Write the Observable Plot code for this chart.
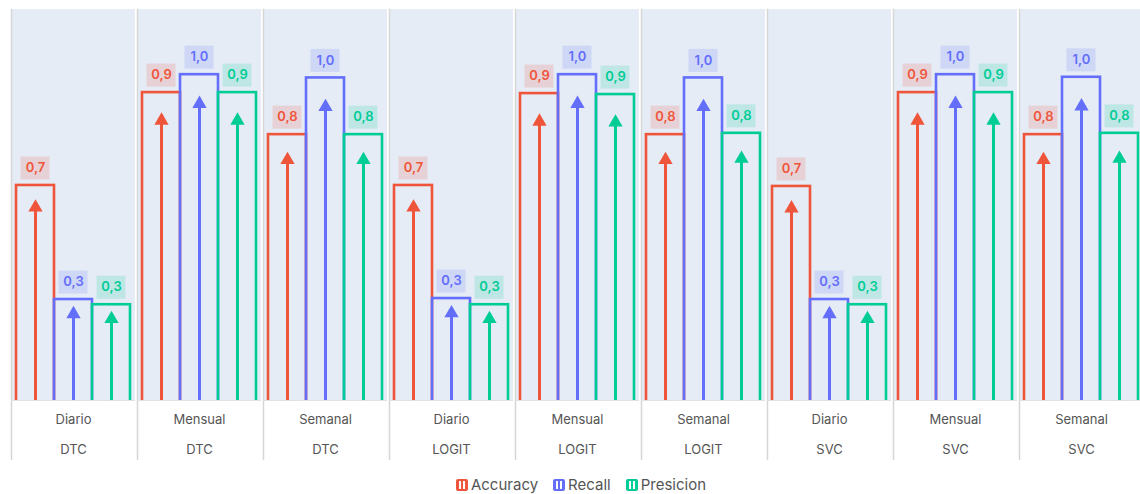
<!DOCTYPE html>
<html>
<head>
<meta charset="utf-8">
<script src="https://cdn.jsdelivr.net/npm/d3@7"></script>
<script src="https://cdn.jsdelivr.net/npm/@observablehq/plot@0.6"></script>
<style>
  body { margin: 0; overflow: hidden; background: #fff; font-family: Inter, "Noto Sans", sans-serif; }
  #chart svg { max-width: none !important; display: block; }
  #legend { width: 1140px; height: 34px; box-sizing: border-box; padding-top: 15px; padding-left: 22px; display: flex; justify-content: center; gap: 15px; font-size: 15px; line-height: 20px; color: #555; }
  .item { display: flex; align-items: center; gap: 3px; }
  .icon { width: 8px; height: 8px; border: 2px solid; border-radius: 2px; }
</style>
</head>
<body>
<div id="chart"></div>
<div id="legend"></div>
<script>
// ---- data ----
const models = ["DTC", "DTC", "DTC", "LOGIT", "LOGIT", "LOGIT", "SVC", "SVC", "SVC"];
const periods = ["Diario", "Mensual", "Semanal", "Diario", "Mensual", "Semanal", "Diario", "Mensual", "Semanal"];
const metrics = ["Accuracy", "Recall", "Presicion"];
const colors = ["#EF553B", "#636EFA", "#00CC96"];
const accuracy  = [0.660, 0.945, 0.816, 0.660, 0.942, 0.816, 0.657, 0.945, 0.816];
const recall    = [0.310, 1.000, 0.990, 0.313, 1.000, 0.990, 0.310, 1.000, 0.992];
const presicion = [0.294, 0.945, 0.816, 0.294, 0.939, 0.820, 0.294, 0.945, 0.820];

const keys = models.map((m, i) => periods[i] + "|" + m);
const series = [accuracy, recall, presicion];
const rows = [];
keys.forEach((k, i) => metrics.forEach((m, j) => rows.push({
  key: k, model: models[i], period: periods[i], metric: m, value: series[j][i],
  label: series[j][i].toFixed(1).replace(".", ",")
})));

const yMin = -0.184, yMax = 1.2;
const arrowFrac = 0.935;

const chart = Plot.plot({
  width: 1146,
  height: 460,
  marginLeft: 8,
  marginRight: 0,
  marginTop: 9,
  marginBottom: 0,
  style: { fontFamily: "Inter, 'Noto Sans', sans-serif", background: "transparent" },
  fx: { domain: keys, paddingInner: 0.016, paddingOuter: 0, axis: null, label: null },
  x: { domain: metrics, padding: 0, insetLeft: 5, insetRight: 5, axis: null },
  y: { domain: [yMin, yMax], axis: null },
  color: { domain: metrics, range: colors },
  marks: [
    Plot.rect([0], { y1: 0, y2: yMax, fill: "#E5ECF6" }),
    Plot.rectY(rows, { fx: "key", x: "metric", y1: 0, y2: "value", stroke: "metric", fill: "none", strokeWidth: 2.6, insetBottom: -4 }),
    Plot.rect([0], { y1: yMin, y2: 0, fill: "white" }),
    Plot.frame({ anchor: "left", stroke: "#d6d6d6", strokeWidth: 1.5 }),
    Plot.ruleY([0], { stroke: "#e2e2e2", strokeWidth: 1 }),
    Plot.ruleX(rows, { fx: "key", x: "metric", y1: d => d.value * arrowFrac, y2: 0, stroke: "metric", strokeWidth: 3, insetTop: 8 }),
    Plot.dot(rows, { fx: "key", x: "metric", y: d => d.value * arrowFrac, symbol: "triangle", r: 5.3, fill: "metric", stroke: "none", dy: 8 }),
    Plot.tickY(rows, { fx: "key", x: "metric", y: "value", dy: -17.5, stroke: "metric", strokeWidth: 23, strokeOpacity: 0.17, insetLeft: 4.5, insetRight: 4.5 }),
    Plot.text(rows, { fx: "key", x: "metric", y: "value", dy: -17.5, text: "label", fill: "metric", fontSize: 13, fontWeight: 600 }),
    Plot.text(keys, { fx: d => d, text: d => d.replace("|", "\n"), frameAnchor: "bottom", lineAnchor: "middle", lineHeight: 2.3, dy: -31, fontSize: 13, fill: "#555" })
  ]
});
document.getElementById("chart").appendChild(chart);

const legend = document.getElementById("legend");
metrics.forEach((m, i) => {
  const item = document.createElement("span");
  item.className = "item";
  const icon = document.createElement("span");
  icon.className = "icon";
  icon.style.borderColor = colors[i];
  icon.style.background = `linear-gradient(to right, ${colors[i]} 0 1px, #fff 1px 3px, ${colors[i]} 3px 5px, #fff 5px 7px, ${colors[i]} 7px)`;
  const txt = document.createElement("span");
  txt.textContent = m;
  item.append(icon, txt);
  legend.appendChild(item);
});
</script>
</body>
</html>
